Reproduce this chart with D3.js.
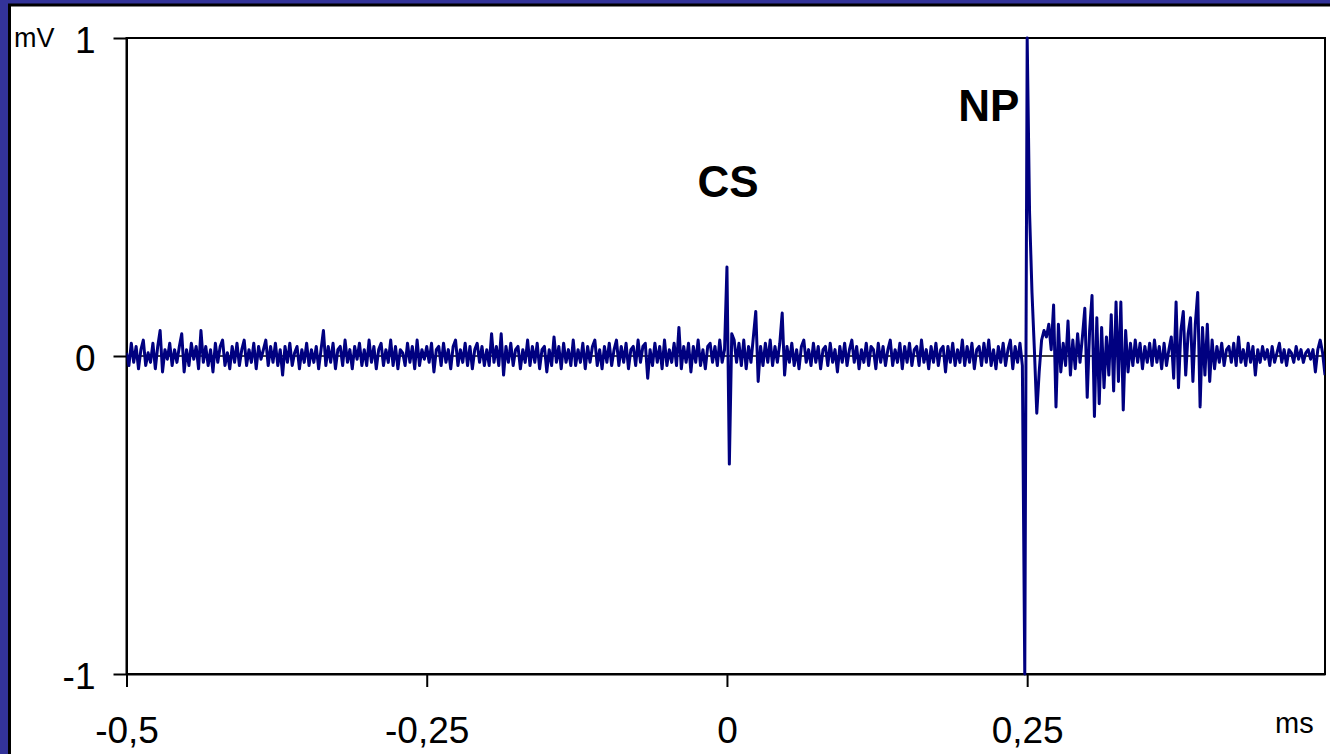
<!DOCTYPE html>
<html>
<head>
<meta charset="utf-8">
<script src="https://cdn.jsdelivr.net/npm/d3@7"></script>
<style>
  body { margin: 0; background: #fff; }
  svg { display: block; font-family: Arial, 'Liberation Sans', sans-serif; }
</style>
</head>
<body>
<svg id="chart"></svg>
<script>
// sampled trace: starts at -0.5 ms, one sample every 0.002 ms (values in mV)
const sampleStart = -0.5
const sampleStep = 0.002
const traceValues = [
  0.01, -0.03, 0.04, -0.02, 0.03, -0.04, 0.02, 0.05, -0.03, 0.01, -0.02, 0.04, -0.04, 0.03, 0.08, -0.05, 0.02, -0.01, 0.04, -0.03, 0.02, -0.02, 0.03, 0.07, -0.05,
  0.02, -0.03, 0.04, -0.01, 0.03, -0.04, 0.08, -0.02, 0.03, -0.03, 0.02, -0.05, 0.04, -0.02, 0.03, 0.05, -0.03, 0.01, -0.04, 0.03, -0.02, 0.04, -0.03, 0.02, 0.05,
  -0.03, 0.02, -0.02, 0.04, -0.04, 0.03, -0.01, 0.02, 0.05, -0.03, 0.03, -0.02, 0.04, -0.03, 0.02, -0.06, 0.03, -0.02, 0.04, -0.03, 0.01, 0.03, -0.04, 0.02, -0.02,
  0.04, -0.03, 0.02, -0.02, 0.03, -0.04, 0.02, 0.08, -0.03, 0.03, -0.02, 0.04, -0.04, 0.02, 0.03, -0.03, 0.05, -0.02, 0.02, -0.04, 0.03, -0.01, 0.04, -0.03, 0.02,
  -0.03, 0.05, -0.02, 0.03, -0.04, 0.02, 0.04, -0.03, 0.02, -0.02, 0.05, -0.03, 0.03, -0.04, 0.02, 0.01, -0.03, 0.04, -0.02, 0.03, -0.04, 0.05, -0.03, 0.02, -0.01,
  0.03, -0.02, 0.04, -0.05, 0.02, 0.03, -0.03, 0.04, -0.02, 0.02, -0.04, 0.03, 0.05, -0.03, 0.02, -0.02, 0.04, -0.03, 0.03, -0.04, 0.02, 0.04, -0.02, 0.03, -0.03,
  0.02, -0.03, 0.07, -0.02, 0.03, -0.03, 0.07, -0.06, 0.03, -0.02, 0.04, -0.03, 0.02, 0.03, -0.04, 0.02, -0.02, 0.05, -0.03, 0.03, -0.02, 0.04, -0.04, 0.02, 0.03,
  -0.05, 0.02, -0.03, 0.06, -0.02, 0.03, -0.04, 0.04, -0.02, 0.02, -0.03, 0.05, -0.03, 0.02, -0.02, 0.04, -0.04, 0.03, -0.02, 0.03, 0.05, -0.03, 0.02, -0.04, 0.03,
  -0.02, 0.04, -0.03, 0.02, 0.05, -0.03, 0.03, -0.02, 0.04, -0.04, 0.02, 0.03, -0.03, 0.05, -0.02, 0.03, 0.04, -0.07, 0.02, -0.03, 0.04, -0.02, 0.03, -0.04, 0.05,
  -0.03, 0.02, -0.02, 0.04, -0.03, 0.09, -0.04, 0.03, -0.02, 0.04, -0.05, 0.03, -0.02, 0.05, -0.03, 0.02, -0.04, 0.03, 0.04, -0.02, 0.03, -0.03, 0.05, -0.02, 0.02,
  0.28, -0.34, 0.07, 0.05, -0.02, 0.04, -0.03, 0.05, -0.04, 0.03, -0.02, 0.06, 0.14, -0.08, 0.03, -0.03, 0.04, -0.02, 0.05, -0.03, 0.03, -0.02, 0.04, 0.135, -0.06,
  0.03, -0.02, 0.04, -0.03, 0.02, -0.04, 0.03, 0.05, -0.02, 0.02, -0.03, 0.04, -0.02, 0.03, -0.04, 0.02, 0.03, -0.03, 0.04, -0.02, 0.02, -0.05, 0.03, -0.02, 0.04,
  -0.03, 0.02, 0.05, -0.02, 0.03, -0.04, 0.02, -0.02, 0.04, -0.03, 0.03, 0.02, -0.04, 0.04, -0.02, 0.03, -0.03, 0.02, 0.05, -0.03, 0.02, -0.02, 0.04, -0.04, 0.03,
  -0.02, 0.04, -0.03, 0.02, 0.03, -0.03, 0.05, -0.02, 0.02, -0.04, 0.03, -0.02, 0.04, -0.03, 0.02, 0.03, -0.05, 0.03, -0.02, 0.04, -0.03, 0.02, -0.02, 0.05, -0.03,
  0.03, -0.02, 0.04, -0.04, 0.02, 0.03, -0.03, 0.04, -0.02, 0.05, -0.03, 0.02, -0.04, 0.03, -0.02, 0.04, -0.03, 0.02, 0.05, -0.04, 0.03, -0.02, 0.04, -0.03, -1,
  1, 0.45, 0.2, 0.02, -0.18, -0.05, 0.05, 0.08, 0.06, 0.1, 0.02, 0.16, -0.16, 0.1, -0.05, 0.04, -0.03, 0.11, -0.06, 0.05, -0.04, 0.07, -0.02, 0.06, 0.15,
  -0.13, 0.08, 0.19, -0.19, 0.12, -0.15, 0.09, -0.1, 0.06, -0.06, 0.13, -0.11, 0.17, -0.08, 0.17, -0.17, 0.08, -0.05, 0.04, -0.03, 0.05, -0.02, 0.04, -0.04, 0.03,
  -0.02, 0.04, -0.03, 0.05, -0.02, 0.03, -0.04, 0.04, -0.03, 0.02, 0.06, -0.07, 0.17, -0.1, 0.08, 0.14, -0.06, 0.07, 0.12, -0.08, 0.1, 0.2, -0.16, 0.09, -0.06,
  0.1, -0.08, 0.05, -0.04, 0.03, -0.02, 0.04, -0.03, 0.02, 0.03, -0.02, 0.04, -0.03, 0.06, -0.02, 0.02, -0.03, 0.04, -0.02, 0.03, -0.06, 0.02, -0.02, 0.03, -0.01,
  0.02, -0.03, 0.03, -0.02, 0.01, 0.04, -0.02, 0.02, -0.03, 0.02, 0.01, -0.02, 0.03, -0.01, 0.02, -0.02, 0.01, 0.02, -0.01, 0.02, -0.05, 0.02, 0.05, 0.01, -0.06,
]

const xTicks = [-0.5, -0.25, 0, 0.25]
const yTicks = [-1, 0, 1]
const peakLabels = [
  { name: 'CS', t: 0.001, v: 0.5 },
  { name: 'NP', t: 0.218, v: 0.74 },
]

const width = 1330
const height = 754
const margin = { top: 38, right: 5, bottom: 80, left: 126.5 }

const svg = d3
  .select('#chart')
  .attr('width', width)
  .attr('height', height)

// --------------------------------------------------------------
// slide frame (blue band + black edge on the left and top)
svg.append('rect').attr('width', width).attr('height', height).attr('fill', '#333399')
svg
  .append('rect')
  .attr('x', 9.5)
  .attr('y', 5)
  .attr('width', width)
  .attr('height', height)
  .attr('fill', '#fff')
  .attr('stroke', '#000')
  .attr('stroke-width', 3)

// --------------------------------------------------------------
// scales
const x = d3
  .scaleLinear()
  .domain([-0.5, 0.498])
  .range([margin.left, width - margin.right])

const y = d3
  .scaleLinear()
  .domain([-1, 1])
  .range([height - margin.bottom, margin.top])

const locale = d3.formatLocale({
  decimal: ',',
  thousands: '.',
  grouping: [3],
  currency: ['', ''],
  minus: '-',
})
const fmt = locale.format('')

// plot box (top and right edges)
svg
  .append('rect')
  .attr('x', x.range()[0])
  .attr('y', y(1))
  .attr('width', x.range()[1] - x.range()[0])
  .attr('height', y(-1) - y(1))
  .attr('fill', 'none')
  .attr('stroke', '#000')
  .attr('stroke-width', 2)

// zero line
svg
  .append('line')
  .attr('x1', x.range()[0])
  .attr('x2', x.range()[1])
  .attr('y1', y(0))
  .attr('y2', y(0))
  .attr('stroke', '#000')
  .attr('stroke-width', 1.5)

// --------------------------------------------------------------
// axes
const yAxis = svg
  .append('g')
  .attr('transform', `translate(${margin.left},0)`)
  .call(
    d3.axisLeft(y).tickValues(yTicks).tickFormat(fmt).tickSize(13).tickSizeOuter(0).tickPadding(18)
  )

const xAxis = svg
  .append('g')
  .attr('transform', `translate(0,${y(-1)})`)
  .call(
    d3.axisBottom(x).tickValues(xTicks).tickFormat(fmt).tickSize(13).tickSizeOuter(0).tickPadding(30)
  )

svg.selectAll('.domain, .tick line').attr('stroke', '#000').attr('stroke-width', 2)
svg
  .selectAll('.tick text')
  .attr('fill', '#000')
  .attr('font-size', 37)
  .attr('font-family', 'Arial, "Liberation Sans", sans-serif')
yAxis.selectAll('.tick text').attr('dy', '0.4em')

// unit labels
svg
  .append('text')
  .attr('x', 14)
  .attr('y', 47)
  .attr('font-size', 27)
  .text('mV')

svg
  .append('text')
  .attr('x', 1275)
  .attr('y', 733)
  .attr('font-size', 29)
  .text('ms')

// --------------------------------------------------------------
// trace
svg
  .append('clipPath')
  .attr('id', 'plotClip')
  .append('rect')
  .attr('x', x.range()[0])
  .attr('y', y(1) - 2)
  .attr('width', x.range()[1] - x.range()[0])
  .attr('height', y(-1) - y(1) + 4)

const line = d3
  .line()
  .x((d, i) => x(sampleStart + i * sampleStep))
  .y((d) => y(d))

svg
  .append('path')
  .datum(traceValues)
  .attr('clip-path', 'url(#plotClip)')
  .attr('d', line)
  .attr('fill', 'none')
  .attr('stroke', '#000080')
  .attr('stroke-width', 3)
  .attr('stroke-linejoin', 'round')

// peak names
svg
  .append('g')
  .selectAll('text')
  .data(peakLabels)
  .join('text')
  .attr('x', (d) => x(d.t))
  .attr('y', (d) => y(d.v))
  .attr('text-anchor', 'middle')
  .attr('font-size', 44)
  .attr('font-weight', 'bold')
  .text((d) => d.name)
</script>
</body>
</html>
